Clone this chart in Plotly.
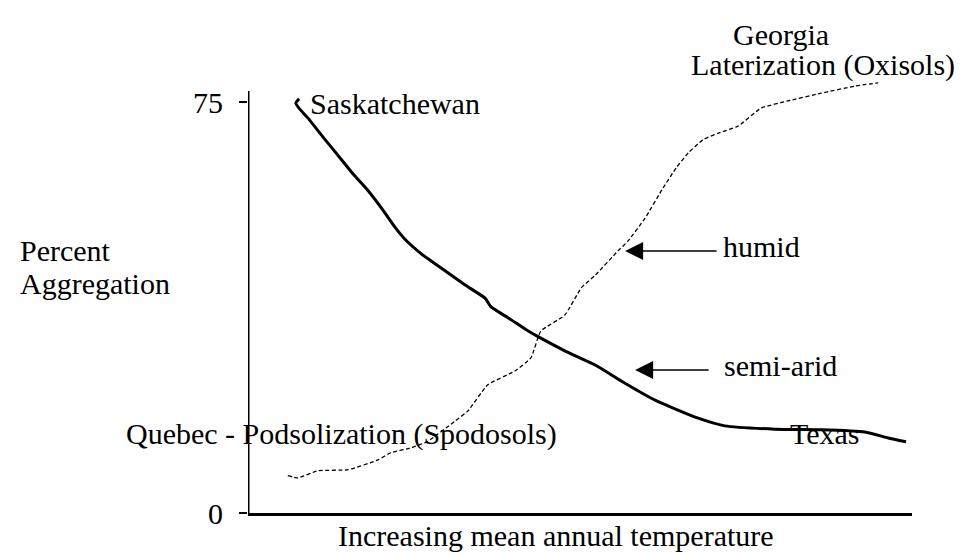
import plotly.graph_objects as go

# --- data ---
temp_semiarid = [7.7, 7.2, 7.8, 9.0, 11.3, 13.6, 15.8, 18.1, 20.3, 22.1, 23.6, 26.1, 29.1, 32.7,
                 35.7, 36.6, 39.2, 42.2, 44.1, 47.7, 52.3, 56.2, 61.3, 67.8, 71.8, 79.4, 86.3,
                 92.9, 96.4, 99.1]
agg_semiarid = [75.6, 74.8, 73.7, 72.1, 68.6, 65.2, 61.9, 58.8, 55.3, 52.2, 50.0, 47.3, 44.7, 41.6,
                39.2, 37.6, 35.6, 33.2, 31.9, 29.6, 27.0, 24.1, 20.6, 17.3, 15.9, 15.3, 15.2,
                14.8, 13.7, 13.0]

temp_humid = [6.0, 7.5, 10.5, 15.1, 19.6, 21.5, 24.6, 27.1, 31.2, 33.1, 36.1, 40.2, 42.6, 44.1,
              47.7, 50.2, 52.3, 55.7, 57.2, 59.8, 62.5, 64.5, 66.3, 68.5, 70.8, 73.8, 77.3, 81.3,
              86.3, 91.4, 94.9]
agg_humid = [6.8, 6.4, 7.7, 7.9, 9.7, 11.0, 11.9, 13.1, 16.8, 18.6, 23.4, 25.9, 28.3, 33.2,
             36.1, 41.1, 43.4, 47.8, 49.6, 53.8, 59.3, 63.0, 65.7, 68.1, 69.3, 70.6, 73.9, 75.2,
             76.6, 77.9, 78.5]

y_tickvals = [0, 75]
y_ticktext = ["0", "75"]

FONT = "Liberation Serif, Times New Roman, serif"
FS = 30

W, H = 970, 556
L, R, T, B = 240, 66, 50, 51
PW, PH = W - L - R, H - T - B
YMAX = 83.03

def pxx(x):
    return (x - L) / PW

def pxy(y):
    return (H - B - y) / PH

fig = go.Figure()
fig.add_trace(go.Scatter(x=temp_semiarid, y=agg_semiarid, mode="lines",
                         line=dict(color="black", width=3, shape="spline", smoothing=0.5),
                         name="semi-arid"))
fig.add_trace(go.Scatter(x=temp_humid, y=agg_humid, mode="lines",
                         line=dict(color="black", width=1.3, dash="4px,2.5px",
                                   shape="spline", smoothing=0.4),
                         name="humid"))

# y-axis line (stops just above the 75 tick)
fig.add_shape(type="line", xref="x", yref="y", x0=0, x1=0, y0=0, y1=77.0,
              line=dict(color="black", width=3))

def label(text, x, base, anchor="left"):
    fig.add_annotation(text=text, xref="paper", yref="paper", x=pxx(x), y=pxy(base - 10),
                       xanchor=anchor, yanchor="middle", showarrow=False,
                       font=dict(family=FONT, size=FS, color="black"))

label("Percent", 10, 252)
label("Aggregation", 10, 285)
label("Saskatchewan", 300, 105)
label("Quebec - Podsolization (Spodosols)", 116, 436)
label("Texas", 780, 435)
label("humid", 713, 248)
label("semi-arid", 714, 367)
label("Georgia", 723, 37)
label("Laterization (Oxisols)", 681, 67)
label("Increasing mean annual temperature", 548, 537, anchor="center")

def arrow(x_tip, x_tail, yv):
    fig.add_annotation(x=x_tip, y=yv, ax=x_tail, ay=yv, xref="x", yref="y", axref="x", ayref="y",
                       text="", showarrow=True, arrowhead=2, arrowsize=2.4, arrowwidth=1.5,
                       arrowcolor="black")

arrow(56.8, 70.8, 47.8)
arrow(58.3, 69.6, 26.1)

fig.update_layout(
    width=W, height=H, margin=dict(l=L, r=R, t=T, b=B),
    paper_bgcolor="white", plot_bgcolor="white", showlegend=False,
    font=dict(family=FONT, size=FS, color="black"),
    xaxis=dict(range=[0, 100], showline=True, linecolor="black", linewidth=3,
               showgrid=False, zeroline=False, showticklabels=False, ticks=""),
    yaxis=dict(range=[0, YMAX], showline=False, showgrid=False, zeroline=False,
               tickvals=y_tickvals, ticktext=y_ticktext, ticks="outside", ticklen=8,
               tickwidth=2, tickcolor="black", ticklabelstandoff=10,
               tickfont=dict(family=FONT, size=FS, color="black")),
)

fig.write_html("out.html")
